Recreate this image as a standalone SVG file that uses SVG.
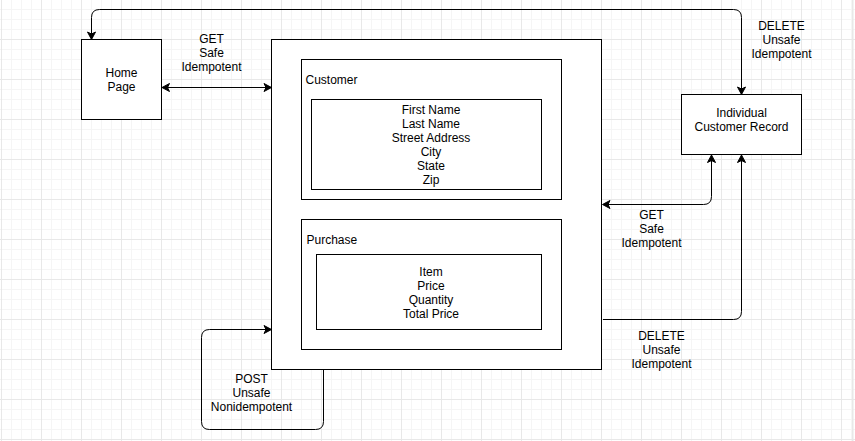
<svg xmlns="http://www.w3.org/2000/svg" width="855" height="441" viewBox="0 0 855 441">
  <style>
    .box { fill: #ffffff; stroke: #000000; stroke-width: 1; }
    .t { font-family: "Liberation Sans", Arial, sans-serif; font-size: 12px; fill: #000000; }
    .c { text-anchor: middle; }
    .edge { fill: none; stroke: #000000; stroke-width: 1; }
  </style>
  <defs>
    <pattern id="grid" x="1" y="-1" width="40" height="40" patternUnits="userSpaceOnUse">
      <path d="M10.5 0V40M20.5 0V40M30.5 0V40M0 10.5H40M0 20.5H40M0 30.5H40" stroke="#f5f5f5" stroke-width="1" fill="none"/>
      <path d="M0.5 0V40M0 0.5H40" stroke="#e8e8e8" stroke-width="1" fill="none"/>
    </pattern>
    <marker id="arr" markerUnits="userSpaceOnUse" viewBox="-8 -5 9 10" markerWidth="9" markerHeight="10" refX="0" refY="0" orient="auto-start-reverse" overflow="visible">
      <path d="M0.5,0 L-7,-4 L-5,0 L-7,4 Z" fill="#000000" stroke="#000000" stroke-width="1" stroke-linejoin="miter"/>
    </marker>
  </defs>
  <rect x="0" y="0" width="855" height="441" fill="#ffffff"/>
  <rect x="0" y="0" width="855" height="441" fill="url(#grid)"/>
  <rect x="852" y="0" width="1.5" height="441" fill="#e8e8e8"/>

  <g id="connectors">
    <path class="edge" d="M162.5,87.5 H271" marker-start="url(#arr)" marker-end="url(#arr)"/>
    <path class="edge" d="M91.5,39 V17.5 Q91.5,9.5 99.5,9.5 H733.5 Q741.5,9.5 741.5,17.5 V94" marker-start="url(#arr)" marker-end="url(#arr)"/>
    <path class="edge" d="M603,204.5 H703.5 Q711.5,204.5 711.5,196.5 V155.5" marker-start="url(#arr)" marker-end="url(#arr)"/>
    <path class="edge" d="M603,319.5 H733.5 Q741.5,319.5 741.5,311.5 V155.5" marker-end="url(#arr)"/>
    <path class="edge" d="M323.5,370 V421.5 Q323.5,429.5 315.5,429.5 H209.5 Q201.5,429.5 201.5,421.5 V337.5 Q201.5,329.5 209.5,329.5 H271" marker-end="url(#arr)"/>
    <g id="label-get-home">
      <text class="t c" x="211.5" y="43">GET</text>
      <text class="t c" x="211.5" y="57">Safe</text>
      <text class="t c" x="211.5" y="71">Idempotent</text>
    </g>
    <g id="label-delete-top">
      <text class="t c" x="781.5" y="29.5">DELETE</text>
      <text class="t c" x="781.5" y="43.5">Unsafe</text>
      <text class="t c" x="781.5" y="57.5">Idempotent</text>
    </g>
    <g id="label-get-record">
      <text class="t c" x="651.5" y="219">GET</text>
      <text class="t c" x="651.5" y="233">Safe</text>
      <text class="t c" x="651.5" y="247">Idempotent</text>
    </g>
    <g id="label-delete-bottom">
      <text class="t c" x="661.5" y="339.5">DELETE</text>
      <text class="t c" x="661.5" y="353.5">Unsafe</text>
      <text class="t c" x="661.5" y="367.5">Idempotent</text>
    </g>
    <g id="label-post">
      <text class="t c" x="251.5" y="382.5">POST</text>
      <text class="t c" x="251.5" y="396.5">Unsafe</text>
      <text class="t c" x="251.5" y="410.5">Nonidempotent</text>
    </g>
  </g>

  <g id="home-page">
    <rect class="box" x="81.5" y="39.5" width="80" height="80"/>
    <text class="t c" x="121.5" y="76.5">Home</text>
    <text class="t c" x="121.5" y="90.5">Page</text>
  </g>

  <g id="main-resource">
    <rect class="box" x="271.5" y="39.5" width="330" height="330"/>
  </g>

  <g id="customer">
    <rect class="box" x="301.5" y="59.5" width="260" height="140"/>
    <text class="t" x="305.5" y="83.5">Customer</text>
  </g>

  <g id="customer-fields">
    <rect class="box" x="311.5" y="99.5" width="230" height="90"/>
    <text class="t c" x="431" y="113.5">First Name</text>
    <text class="t c" x="431" y="127.5">Last Name</text>
    <text class="t c" x="431" y="141.5">Street Address</text>
    <text class="t c" x="431" y="155.5">City</text>
    <text class="t c" x="431" y="169.5">State</text>
    <text class="t c" x="431" y="183.5">Zip</text>
  </g>

  <g id="purchase">
    <rect class="box" x="301.5" y="219.5" width="260" height="130"/>
    <text class="t" x="306.5" y="243.5">Purchase</text>
  </g>

  <g id="purchase-fields">
    <rect class="box" x="316.5" y="254.5" width="225" height="75"/>
    <text class="t c" x="431" y="275.5">Item</text>
    <text class="t c" x="431" y="289.5">Price</text>
    <text class="t c" x="431" y="303.5">Quantity</text>
    <text class="t c" x="431" y="317.5">Total Price</text>
  </g>

  <g id="customer-record">
    <rect class="box" x="681.5" y="94.5" width="120" height="60"/>
    <text class="t c" x="741.5" y="117">Individual</text>
    <text class="t c" x="741.5" y="131">Customer Record</text>
  </g>
</svg>
